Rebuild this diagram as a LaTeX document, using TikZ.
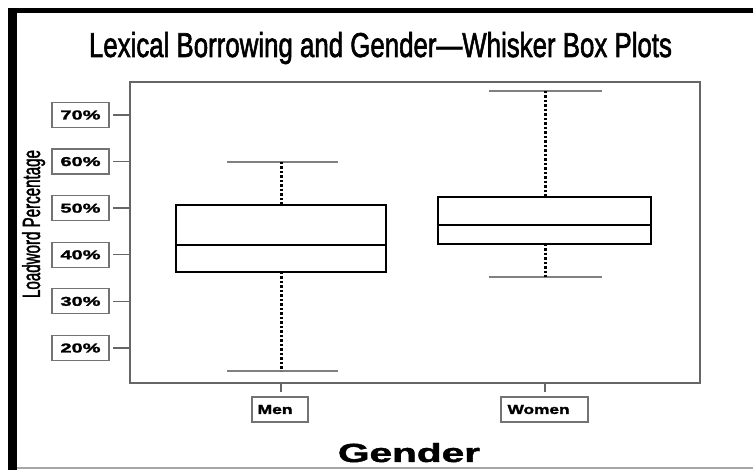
\documentclass[tikz,border=0pt]{standalone}
\usepackage{fontspec}
\setmainfont{Liberation Sans}
\newfontfamily\heavyfont[FakeBold=2]{Liberation Sans}
\newfontfamily\labfont[FakeBold=1.5]{Liberation Sans Bold}
\begin{document}
\begin{tikzpicture}[x=1pt,y=-1pt,
  framegray/.style={draw=black!60, line width=1.4pt},
  boxline/.style={draw=black, line width=2.8pt, inner sep=0pt},
  whisk/.style={draw=black, line width=3pt, dash pattern=on 2.5pt off 2pt},
  capline/.style={draw=black!50, line width=1.4pt},
  lab/.style={draw=black!55, line width=1.2pt, minimum height=25pt, inner sep=0pt},
  txt/.style={inner sep=0pt, text=black}]
\useasboundingbox (0,0) rectangle (753,470);
\fill[white] (0,0) rectangle (753,470);
% outer frame
\fill[black] (8,8) rectangle (753,13);
\fill[black] (8,8) rectangle (17,470);
\draw[black!35, line width=1.5pt] (17,468) -- (753,468);
% title
\node[txt, anchor=base] (title) at (380.5,57) {\resizebox{583pt}{25pt}{\heavyfont Lexical Borrowing and Gender\textemdash Whisker Box Plots}};
% plot frame
\coordinate (pl) at (130,82);
\coordinate (pr) at (700,383);
\draw[framegray] (pl) rectangle (pr);
% y axis label
\node[txt, anchor=base, rotate=90] (ylab) at (40,224) {\resizebox{148pt}{18pt}{\heavyfont Loadword Percentage}};
% y ticks and labels
\foreach \v/\y in {70/115,60/161.6,50/208.2,40/254.8,30/301.4,20/348}{
  \node[lab, minimum width=57pt] (t\v) at (80.5,\y) {};
  \node[txt] at (t\v.center) {\resizebox{40pt}{9pt}{\labfont \v\%}};
  \coordinate (a\v) at (130,\y);
  \coordinate (b\v) at (113,\y);
  \draw[framegray] (b\v) -- (a\v);
}
% x ticks
\coordinate (xm) at (281,383);
\coordinate (xw) at (545,383);
\draw[framegray] (xm) -- ++(0,9);
\draw[framegray] (xw) -- ++(0,9);
\node[lab, minimum width=56pt] (men) at (280,409.5) {};
\node[txt, anchor=west] at ([xshift=6pt]men.west) {\resizebox{35pt}{9pt}{\labfont Men}};
\node[lab, minimum width=87pt] (women) at (544.5,409.5) {};
\node[txt, anchor=west] at ([xshift=7pt]women.west) {\resizebox{62pt}{9pt}{\labfont Women}};
% x axis title
\node[txt, anchor=base] (gender) at (409,462) {\resizebox{142pt}{19pt}{\labfont Gender}};
% Men box plot
\coordinate (mUp) at (281,162);
\coordinate (mLo) at (281,371);
\draw[capline] (227,162) -- (338,162);
\draw[capline] (227,371) -- (338,371);
\draw[whisk] (mUp) -- (281,205);
\draw[whisk] (281,272) -- (mLo);
\node[boxline, draw, minimum width=210pt, minimum height=67pt, fill=white] (menbox) at (281,238.5) {};
\draw[boxline] (menbox.west |- 0,245) -- (menbox.east |- 0,245);
% Women box plot
\coordinate (wUp) at (545,91);
\coordinate (wLo) at (545,277);
\draw[capline] (489,91) -- (602,91);
\draw[capline] (489,277) -- (602,277);
\draw[whisk] (wUp) -- (545,197);
\draw[whisk] (545,244) -- (wLo);
\node[boxline, draw, minimum width=213pt, minimum height=47pt, fill=white] (wbox) at (544.5,220.5) {};
\draw[boxline] (wbox.west |- 0,225) -- (wbox.east |- 0,225);
\end{tikzpicture}
\end{document}
